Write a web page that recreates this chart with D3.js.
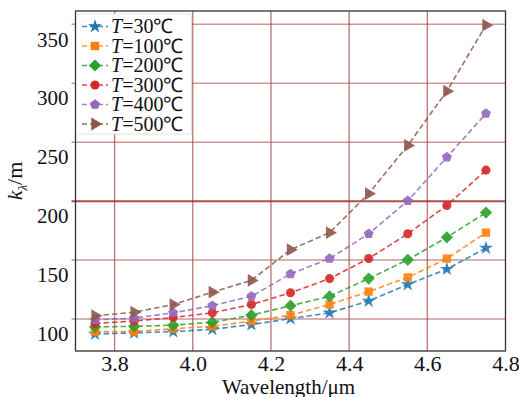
<!DOCTYPE html>
<html>
<head>
<meta charset="utf-8">
<script src="https://cdn.jsdelivr.net/npm/d3@7"></script>
<style>
  body { margin: 0; background: #fff; }
</style>
</head>
<body>
<div id="chart"></div>
<script>
// --------------------------------------
//  Data
// --------------------------------------

const wavelengths = [3.75, 3.85, 3.95, 4.05, 4.15, 4.25, 4.35, 4.45, 4.55, 4.65, 4.75];
const temps = ["30", "100", "200", "300", "400", "500"];
const k30  = [100, 101, 102, 104, 108, 113, 118, 128, 142, 155, 173];
const k100 = [102, 102, 104.5, 106.5, 111, 116, 125, 136, 148, 164, 186];
const k200 = [106, 106.5, 107.5, 110, 116, 124, 132, 147, 163, 182, 203];
const k300 = [109, 111, 114, 118, 125, 135, 147, 164, 185, 209, 239];
const k400 = [112, 113.5, 118, 124, 132, 151, 164, 185, 213, 250, 287];
const k500 = [115.5, 118.5, 125, 135.5, 145.5, 171.5, 186, 219, 260, 306, 362];
const xTicks = [3.8, 4.0, 4.2, 4.4, 4.6, 4.8];
const yTicks = [100, 150, 200, 250, 300, 350];

const colors = ["#1f77b4", "#ff7f0e", "#2ca02c", "#d62728", "#9467bd", "#8c564b"];
const serif = '"Liberation Serif"';

// --------------------------------------
//  Markers
// --------------------------------------

const square45 = {
  draw(ctx, size) {
    const r = Math.sqrt(size / 2);
    ctx.moveTo(0, -r); ctx.lineTo(r, 0); ctx.lineTo(0, r); ctx.lineTo(-r, 0); ctx.closePath();
  }
};
const pentagon = {
  draw(ctx, size) {
    const r = Math.sqrt(size / 2.38);
    for (let i = 0; i < 5; i++) {
      const a = -Math.PI / 2 + i * 2 * Math.PI / 5;
      if (i === 0) ctx.moveTo(r * Math.cos(a), r * Math.sin(a));
      else ctx.lineTo(r * Math.cos(a), r * Math.sin(a));
    }
    ctx.closePath();
  }
};
const triRight = {
  draw(ctx, size) {
    const r = Math.sqrt(size / 1.3);
    ctx.moveTo(r, 0); ctx.lineTo(-r * 0.5, -r * 0.87); ctx.lineTo(-r * 0.5, r * 0.87); ctx.closePath();
  }
};
const markers = [
  {type: d3.symbolStar, size: 60},
  {type: d3.symbolSquare, size: 70},
  {type: square45, size: 75},
  {type: d3.symbolCircle, size: 65},
  {type: pentagon, size: 65},
  {type: triRight, size: 70}
];

const series = [k30, k100, k200, k300, k400, k500].map((vals, i) => ({
  name: temps[i],
  color: colors[i],
  marker: markers[i],
  points: wavelengths.map((w, j) => ({w, k: vals[j]}))
}));

// --------------------------------------
//  Margin and canvas
// --------------------------------------

const width = 519;
const height = 397;
const plot = {left: 75.5, right: 505.5, top: 11, bottom: 351};
const labelShift = 15; // tick labels sit lower than their grid lines in the source

const svg = d3.select("#chart")
  .append("svg")
    .attr("width", width)
    .attr("height", height)
    .style("font-family", serif);

// --------------------------------------
//  Scales
// --------------------------------------

const x = d3.scaleLinear()
    .domain([3.7, 4.8])
    .range([plot.left, plot.right]);

const y = d3.scaleLinear()
    .domain([85.6, 374.0])
    .range([plot.bottom, plot.top]);

// --------------------------------------
//  Grid
// --------------------------------------

const grid = svg.append("g").attr("class", "grid");

grid.selectAll("line.v")
  .data(xTicks.filter(d => d < 4.8))
  .join("line")
    .attr("class", "v")
    .attr("x1", d => x(d)).attr("x2", d => x(d))
    .attr("y1", plot.top).attr("y2", plot.bottom)
    .attr("stroke", "#a84040")
    .attr("stroke-opacity", 0.75)
    .attr("stroke-width", 1.3);

grid.selectAll("line.h")
  .data(yTicks)
  .join("line")
    .attr("class", "h")
    .attr("x1", plot.left - 4).attr("x2", plot.right)
    .attr("y1", d => y(d) - labelShift).attr("y2", d => y(d) - labelShift)
    .attr("stroke", d => d === 200 ? "#933" : "#a84040")
    .attr("stroke-opacity", d => d === 200 ? 0.85 : 0.55)
    .attr("stroke-width", d => d === 200 ? 2 : 1.5);

// --------------------------------------
//  Axes
// --------------------------------------

const xAxis = svg.append("g")
    .attr("transform", `translate(0, ${plot.bottom})`)
    .call(d3.axisBottom(x)
      .tickValues(xTicks)
      .tickSize(0)
      .tickPadding(4)
      .tickFormat(d3.format(".1f")));
xAxis.attr("font-family", null);
xAxis.select(".domain").remove();
xAxis.selectAll("text")
    .attr("font-size", 22)
    .attr("fill", "#111")
    .style("font-family", serif);

const yAxis = svg.append("g")
    .attr("transform", `translate(${plot.left}, 0)`)
    .call(d3.axisLeft(y)
      .tickValues(yTicks)
      .tickSize(0)
      .tickPadding(7));
yAxis.attr("font-family", null);
yAxis.select(".domain").remove();
yAxis.selectAll("text")
    .attr("font-size", 21)
    .attr("fill", "#111")
    .style("font-family", serif);

svg.append("rect")
    .attr("x", plot.left).attr("y", plot.top)
    .attr("width", plot.right - plot.left)
    .attr("height", plot.bottom - plot.top)
    .attr("fill", "none")
    .attr("stroke", "#333")
    .attr("stroke-width", 1.3);

svg.append("text")
    .attr("x", (plot.left + plot.right) / 2 - 2)
    .attr("y", 394)
    .attr("text-anchor", "middle")
    .attr("font-size", 21)
    .attr("fill", "#111")
    .style("font-family", serif)
    .text("Wavelength/μm");

const yLabel = svg.append("text")
    .attr("transform", "translate(22, 181) rotate(-90)")
    .attr("text-anchor", "middle")
    .attr("font-size", 22)
    .attr("fill", "#111")
    .style("font-family", serif);
yLabel.append("tspan").attr("font-style", "italic").text("k");
yLabel.append("tspan").attr("font-size", 13).attr("dy", 5).attr("font-style", "italic").text("λ");
yLabel.append("tspan").attr("dy", -5).text("/m");

// --------------------------------------
//  Data drawing
// --------------------------------------

const line = d3.line()
    .x(d => x(d.w))
    .y(d => y(d.k));

const groups = svg.append("g")
  .selectAll("g")
  .data(series)
  .join("g");

groups.append("path")
    .attr("d", d => line(d.points))
    .attr("fill", "none")
    .attr("stroke", d => d.color)
    .attr("stroke-opacity", 0.85)
    .attr("stroke-width", 1.6)
    .attr("stroke-dasharray", "5.5,3");

groups.each(function(s) {
  d3.select(this).selectAll("path.m")
    .data(s.points)
    .join("path")
      .attr("class", "m")
      .attr("transform", d => `translate(${x(d.w)}, ${y(d.k)})`)
      .attr("d", d3.symbol().type(s.marker.type).size(s.marker.size))
      .attr("fill", s.color)
      .attr("fill-opacity", 0.9);
});

// --------------------------------------
//  Legend
// --------------------------------------

const legend = svg.append("g");

legend.append("rect")
    .attr("x", plot.left + 1).attr("y", 14)
    .attr("width", 115).attr("height", 120)
    .attr("fill", "#fff")
    .attr("stroke", "#e4e4e4");

const items = legend.selectAll("g.item")
  .data(series)
  .join("g")
    .attr("class", "item")
    .attr("transform", (d, i) => `translate(0, ${26.5 + i * 19.5})`);

items.append("line")
    .attr("x1", 82).attr("x2", 108)
    .attr("stroke", d => d.color)
    .attr("stroke-opacity", 0.85)
    .attr("stroke-width", 1.6)
    .attr("stroke-dasharray", "5,3");

items.append("path")
    .attr("transform", "translate(95, 0)")
    .attr("d", d => d3.symbol().type(d.marker.type).size(d.marker.size)())
    .attr("fill", d => d.color);

const itemText = items.append("text")
    .attr("x", 111)
    .attr("y", 6.5)
    .attr("font-size", 20)
    .attr("fill", "#111")
    .style("font-family", serif);
itemText.append("tspan").attr("font-style", "italic").text("T");
itemText.append("tspan").text(d => `=${d.name}℃`);
</script>
</body>
</html>
